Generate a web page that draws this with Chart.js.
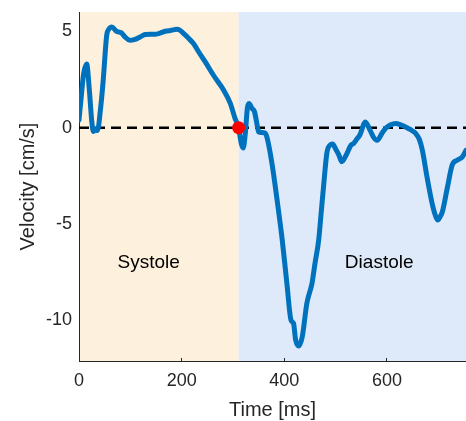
<!DOCTYPE html>
<html>
<head>
<meta charset="utf-8">
<script src="https://cdn.jsdelivr.net/npm/chart.js@4/dist/chart.umd.min.js"></script>
<style>
  html, body { margin: 0; padding: 0; background: #ffffff; }
  #wrap { width: 466px; height: 421px; }
</style>
</head>
<body>
<div id="wrap"><canvas id="velChart" width="466" height="421"></canvas></div>
<script>
// velocity trace, time in ms, velocity in cm/s
var tiempo = [0, 4, 9, 15, 20, 25, 28, 32, 36, 42, 47, 54, 58, 64, 73, 82, 90, 99, 109, 120,
  129, 139, 148, 155, 168, 180, 190, 197, 204, 213, 223, 234, 246, 262, 282, 295, 304, 311, 316, 320,
  324, 328, 331, 337, 342, 346, 350, 355, 362, 366, 376, 386, 396, 405, 413, 418, 422, 428, 435, 444,
  454, 460, 467, 472, 477, 483, 489, 494, 500, 506, 512, 517, 522, 530, 535, 541, 547, 558, 567, 574,
  581, 590, 597, 607, 617, 627, 636, 646, 656, 663, 669, 678, 688, 695, 699, 704, 708, 718, 727, 737,
  747, 754];
var velocidad = [0.4, 1.5, 2.8, 3.3, 2.0, 0.3, -0.2, -0.1, -0.15, 1.0, 2.4, 4.8, 5.1, 5.22, 5.0, 4.93, 4.7, 4.53, 4.58, 4.72,
  4.83, 4.85, 4.85, 4.88, 5.0, 5.05, 5.1, 5.05, 4.88, 4.65, 4.36, 3.9, 3.41, 2.72, 1.94, 1.25, 0.48, 0.0, -0.8, -1.05,
  -0.3, 1.0, 1.25, 1.0, 0.82, 0.3, -0.22, -0.25, -0.27, -0.48, -1.86, -3.76, -5.83, -8.07, -9.97, -10.15, -11.0, -11.32, -10.84, -9.1,
  -8.07, -7.0, -5.83, -4.36, -2.89, -1.3, -0.9, -0.85, -1.1, -1.4, -1.77, -1.6, -1.34, -0.9, -0.82, -0.6, -0.39, 0.3, -0.13, -0.5,
  -0.65, -0.3, -0.04, 0.15, 0.22, 0.15, 0.04, -0.1, -0.3, -0.6, -1.17, -2.55, -3.93, -4.6, -4.79, -4.6, -4.36, -3.07, -1.94, -1.68,
  -1.51, -1.17];

// phases of the cycle and where they start / end (ms)
var fases = ['Systole', 'Diastole'];
var limitesFases = [0, 311, 754];
var coloresFases = ['#FDF0DC', '#DEEAF9'];
var textoFaseX = [75, 518];
var textoFaseY = -7;

// instant where the trace crosses zero (end of systole)
var cruceT = [311];
var cruceV = [0];

var xTicks = [0, 200, 400, 600];
var yTicks = [-10, -5, 0, 5];

var fuente = "'Liberation Sans', Arial, Helvetica, sans-serif";
var gris = '#262626';

var puntos = [];
for (var i = 0; i < tiempo.length; i++) {
  puntos.push({ x: tiempo[i], y: velocidad[i] });
}
var puntoCruce = [];
for (var j = 0; j < cruceT.length; j++) {
  puntoCruce.push({ x: cruceT[j], y: cruceV[j] });
}

// shaded phase backgrounds, drawn before the axes
var fondoFases = {
  id: 'fondoFases',
  beforeDraw: function(chart) {
    var ctx = chart.ctx;
    var area = chart.chartArea;
    var sx = chart.scales.x;
    ctx.save();
    for (var k = 0; k < fases.length; k++) {
      var x0 = sx.getPixelForValue(limitesFases[k]);
      var x1 = sx.getPixelForValue(limitesFases[k + 1]);
      ctx.fillStyle = coloresFases[k];
      ctx.fillRect(x0, area.top, x1 - x0, area.bottom - area.top);
    }
    ctx.restore();
  },
  beforeDatasetsDraw: function(chart) {
    var ctx = chart.ctx;
    var sx = chart.scales.x;
    var sy = chart.scales.y;
    ctx.save();
    ctx.fillStyle = '#000000';
    ctx.font = '19px ' + fuente;
    ctx.textAlign = 'left';
    ctx.textBaseline = 'middle';
    for (var k = 0; k < fases.length; k++) {
      ctx.fillText(fases[k], sx.getPixelForValue(textoFaseX[k]), sy.getPixelForValue(textoFaseY));
    }
    ctx.restore();
  }
};

var ctx = document.getElementById('velChart');
var grafico = new Chart(ctx, {
  type: 'line',
  data: {
    datasets: [
      {
        data: puntoCruce,
        showLine: false,
        pointRadius: 6.5,
        pointBackgroundColor: '#FF0000',
        pointBorderWidth: 0,
        order: 0
      },
      {
        data: puntos,
        borderColor: '#0072BD',
        borderWidth: 5,
        pointRadius: 0,
        cubicInterpolationMode: 'monotone',
        borderJoinStyle: 'round',
        borderCapStyle: 'round',
        fill: false,
        order: 1
      },
      {
        data: [{ x: limitesFases[0], y: 0 }, { x: limitesFases[2], y: 0 }],
        borderColor: '#000000',
        borderWidth: 2.5,
        borderDash: [10, 6],
        pointRadius: 0,
        fill: false,
        order: 2
      }
    ]
  },
  options: {
    responsive: false,
    animation: false,
    events: [],
    layout: { autoPadding: false, padding: { top: 12, right: 0, left: 0, bottom: 0 } },
    plugins: {
      legend: { display: false },
      tooltip: { enabled: false }
    },
    scales: {
      x: {
        type: 'linear',
        position: 'bottom',
        min: 0,
        max: 754,
        afterFit: function(s) { s.height = 60; s.paddingLeft = 0; s.paddingRight = 0; },
        afterBuildTicks: function(s) { s.ticks = xTicks.map(function(v) { return { value: v }; }); },
        border: { display: true, color: gris, width: 1 },
        grid: { drawOnChartArea: false, drawTicks: true, tickLength: -3, color: gris },
        ticks: { color: gris, font: { family: fuente, size: 18 }, padding: 12, maxRotation: 0, includeBounds: false },
        title: {
          display: true,
          text: 'Time [ms]',
          color: gris,
          font: { family: fuente, size: 20, lineHeight: 1 },
          padding: { top: 0, bottom: 0.5 }
        }
      },
      y: {
        type: 'linear',
        min: -12.1,
        max: 6,
        afterFit: function(s) { s.width = 79; s.paddingTop = 0; s.paddingBottom = 0; },
        afterBuildTicks: function(s) { s.ticks = yTicks.map(function(v) { return { value: v }; }); },
        border: { display: true, color: gris, width: 1 },
        grid: { drawOnChartArea: false, drawTicks: false },
        ticks: { color: gris, font: { family: fuente, size: 18 }, padding: 7, includeBounds: false },
        title: {
          display: true,
          text: 'Velocity [cm/s]',
          color: gris,
          font: { family: fuente, size: 20, lineHeight: 1 },
          padding: { top: 18, bottom: 0 }
        }
      }
    }
  },
  plugins: [fondoFases]
});
</script>
</body>
</html>
